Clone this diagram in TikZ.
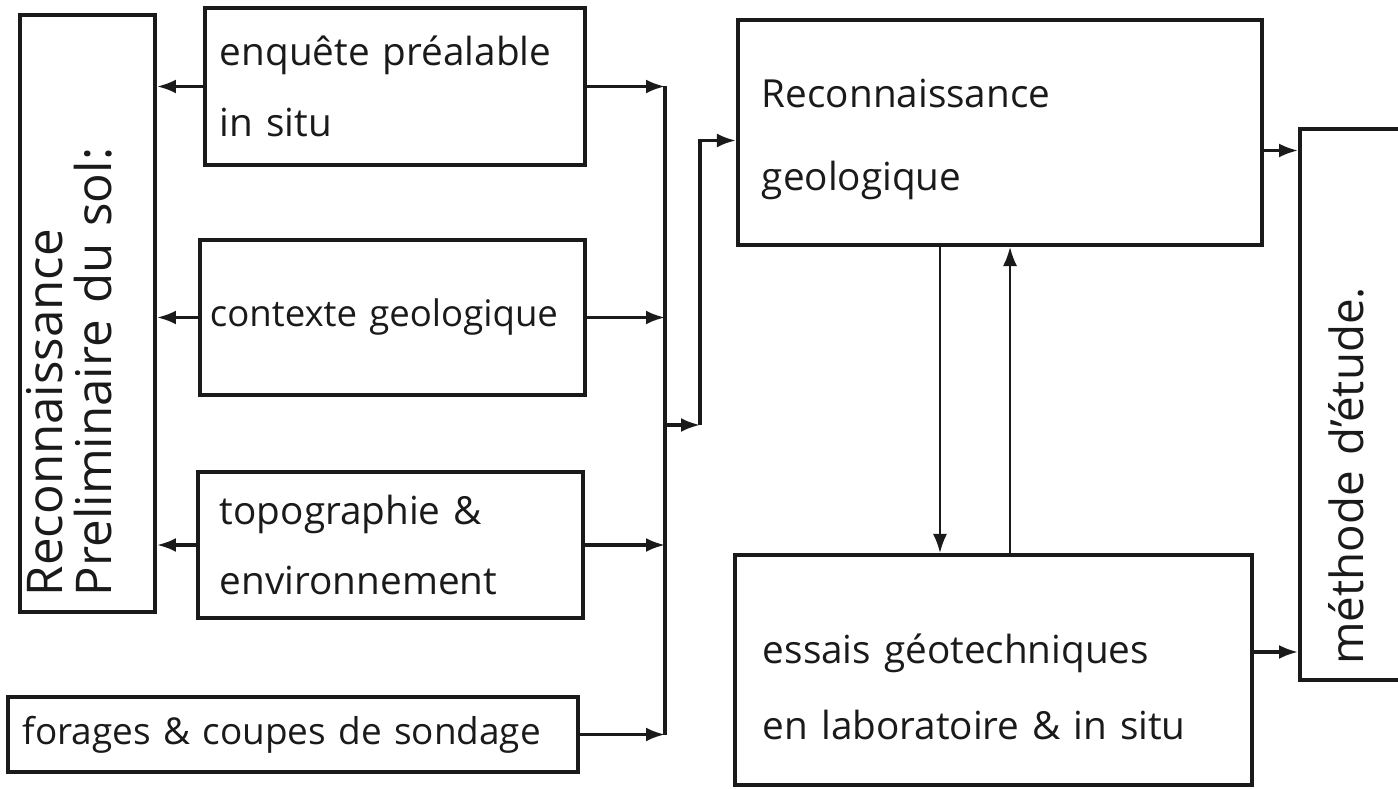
\documentclass[tikz,border=0pt]{standalone}
\usepackage{fontspec}
\setmainfont{Open Sans}
\usetikzlibrary{arrows.meta,calc}
\definecolor{ink}{HTML}{1A1A1A}

\begin{document}
\begin{tikzpicture}[x=0.01cm,y=-0.01cm,
    box/.style={draw=ink,line width=1.1pt,inner xsep=0.15cm,inner ysep=0pt,align=left,
      font={\fontsize{11}{20}\selectfont\hyphenpenalty=10000\relax},text=ink},
    side/.style={box,rotate=90,font=\fontsize{14}{14}\selectfont},
    arr/.style={draw=ink,line width=0.9pt,-{Latex[length=1.9mm,width=1.4mm]}},
    thin/.style={arr,line width=0.6pt}]
  \useasboundingbox (0,0) rectangle (1398,789);
  \clip (0,0) rectangle (1398,789);
  % left column
  \node[side,minimum width=5.97cm,minimum height=1.35cm,text width=5.65cm,text depth=0.86cm] (pre) at (87.5,313.5) {Reconnaissance\\Preliminaire du sol:};
  \node[box,text width=3.5cm,minimum height=1.57cm] (enq) at (395,86.5) {enquête préalable\\in situ};
  \node[box,font=\fontsize{10.4}{12}\selectfont,inner xsep=0.1cm,text width=3.65cm,minimum height=1.55cm] (ctx) at (392.5,317.5) {contexte geologique};
  \node[box,inner xsep=0.22cm,text width=3.41cm,minimum height=1.46cm] (topo) at (390.5,545) {topographie \&\\environnement};
  \node[box,font=\fontsize{10.5}{12}\selectfont,text width=5.4cm,minimum height=0.75cm] (for) at (293,734.5) {forages \& coupes de sondage};
  % right column
  \node[box,inner xsep=0.24cm,text width=4.76cm,minimum height=2.25cm,text height=0.42cm] (geo) at (1000,132.5) {Reconnaissance\\[0.12cm]geologique};
  \node[box,inner xsep=0.28cm,text width=4.61cm,minimum height=2.3cm,text height=0.64cm] (ess) at (993.5,670) {essais géotechniques\\[0.06cm]en laboratoire \& in situ};
  \node[side,font=\fontsize{13}{14}\selectfont,minimum width=5.35cm,minimum height=1.12cm,text width=5.2cm,text depth=0.2cm] (met) at (1356,404.5) {méthode d'étude.};
  % collecting line
  \coordinate (bustop) at (665,86.5);
  \coordinate (busbot) at (665,734.5);
  \coordinate (split) at (665,425);
  \coordinate (riser) at (700,425);
  \draw[ink,line width=0.9pt] (bustop) -- (busbot);
  \foreach \n in {enq,ctx,topo}{
    \draw[arr] (\n.west) -- (\n.west -| pre.south);
    \draw[arr] (\n.east) -- (\n.east -| bustop);}
  \draw[arr] (for.east) -- (for.east -| bustop);
  \draw[arr] (split) -- (riser);
  \draw[arr] (riser) |- ([yshift=-0.08cm]geo.west);
  % exchanges
  \draw[thin] ([xshift=-0.6cm]geo.south) -- ([xshift=-0.6cm]geo.south |- ess.north);
  \draw[thin] ([xshift=0.1cm]geo.south |- ess.north) -- ([xshift=0.1cm]geo.south);
  \draw[arr] ([yshift=-0.18cm]geo.east) -- ([yshift=-0.18cm]geo.east -| met.north);
  \draw[arr] ([yshift=0.18cm]ess.east) -- ([yshift=0.18cm]ess.east -| met.north);
\end{tikzpicture}
\end{document}
